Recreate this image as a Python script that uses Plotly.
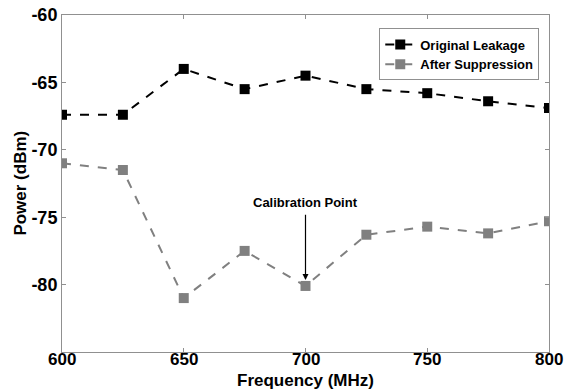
import plotly.graph_objects as go

freq = [600, 625, 650, 675, 700, 725, 750, 775, 800]
original = [-67.4, -67.4, -64.0, -65.5, -64.5, -65.5, -65.8, -66.4, -66.9]
after = [-71.0, -71.5, -81.0, -77.5, -80.1, -76.3, -75.7, -76.2, -75.3]
x_ticks = [600, 650, 700, 750, 800]
y_ticks = [-60, -65, -70, -75, -80]

FONT = "Liberation Sans"

fig = go.Figure()
fig.add_trace(go.Scatter(
    x=freq, y=original, name="<b>Original Leakage</b>", mode="lines+markers",
    line=dict(color="black", width=2, dash="dash"),
    marker=dict(symbol="square", size=10, color="black"),
))
fig.add_trace(go.Scatter(
    x=freq, y=after, name="<b>After Suppression</b>", mode="lines+markers",
    line=dict(color="#808080", width=2, dash="dash"),
    marker=dict(symbol="square", size=10, color="#808080"),
))

fig.add_annotation(
    x=700, y=-80.1, ax=700, ay=-74.7, xref="x", yref="y", axref="x", ayref="y",
    text="", showarrow=True, arrowhead=2, arrowsize=1, arrowwidth=1.2,
    arrowcolor="black", standoff=6,
)
fig.add_annotation(
    x=700, y=-73.9, xref="x", yref="y", text="<b>Calibration Point</b>",
    showarrow=False, font=dict(family=FONT, size=13, color="black"),
)
# x tick labels placed at data x positions, just below the axis
for v in x_ticks:
    fig.add_annotation(
        x=v, y=-0.021, xref="x", yref="paper", xanchor="center", yanchor="middle",
        text=f"<b>{v}</b>", showarrow=False, borderpad=0,
        font=dict(family=FONT, size=17, color="black"),
    )
# axis titles
fig.add_annotation(
    x=0.5, y=-0.085, xref="paper", yref="paper", xanchor="center", yanchor="middle",
    text="<b>Frequency (MHz)</b>", showarrow=False, borderpad=0,
    font=dict(family=FONT, size=17, color="black"),
)
fig.add_annotation(
    x=-0.086, y=0.5, xref="paper", yref="paper", xanchor="center", yanchor="middle",
    text="<b>Power (dBm)</b>", showarrow=False, textangle=-90,
    font=dict(family=FONT, size=17, color="black"),
)

axis_common = dict(
    showgrid=False, zeroline=False, showline=True, linecolor="#909090",
    linewidth=1, mirror="ticks", ticks="inside", ticklen=4, tickcolor="#909090",
    automargin=False, ticklabeloverflow="allow",
)
fig.update_xaxes(
    range=[600, 800], tickvals=x_ticks, showticklabels=False,
    **axis_common,
)
fig.update_yaxes(
    range=[-85, -60], tickvals=y_ticks, ticktext=[f"<b>{v}</b>" for v in y_ticks],
    tickfont=dict(family=FONT, size=18, color="black"),
    **axis_common,
)

fig.update_layout(
    width=564, height=389,
    margin=dict(l=62, r=15, t=15, b=37),
    paper_bgcolor="white", plot_bgcolor="white",
    font=dict(family=FONT, color="black"),
    legend=dict(
        x=0.98, y=0.96, xanchor="right", yanchor="top",
        bgcolor="white", bordercolor="#909090", borderwidth=1,
        font=dict(family=FONT, size=13, color="black"),
        itemwidth=30, tracegroupgap=0,
    ),
)

fig.write_html("out.html")
